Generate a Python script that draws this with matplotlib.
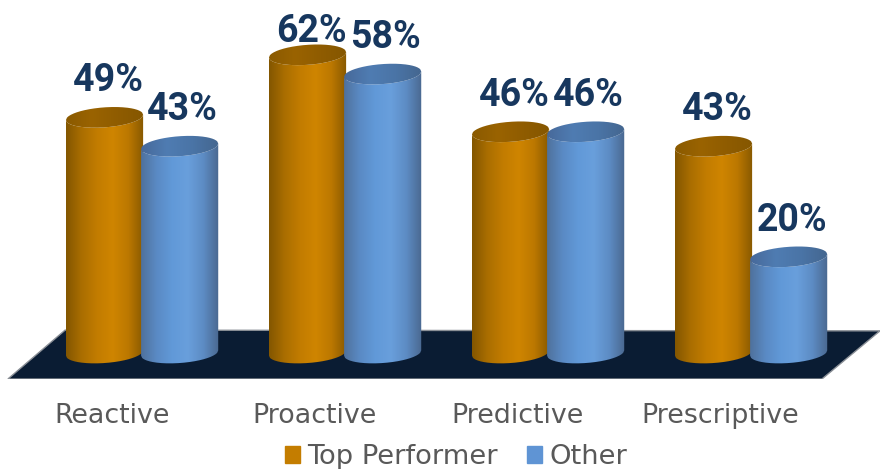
import numpy as np
import matplotlib
matplotlib.use('Agg')
import matplotlib.pyplot as plt
from matplotlib.colors import LinearSegmentedColormap
from matplotlib.patches import Patch, PathPatch, Polygon
from matplotlib.path import Path

categories = ['Reactive', 'Proactive', 'Predictive', 'Prescriptive']
top_performer = [49, 62, 46, 43]
other = [43, 58, 46, 20]
series_names = ['Top Performer', 'Other']

ORANGE = ['#835600', '#aa6e00', '#c27c00', '#cf8500', '#bc7800', '#875900']
ORANGE_TOP = ['#8a5a00', '#9a6300', '#8f5c00', '#855700']
BLUE = ['#4f719c', '#5a8ac4', '#6199d8', '#699fdc', '#5d8cc4', '#4a6890']
BLUE_TOP = ['#47699a', '#4f7cb2', '#4a74a6', '#44668f']

BAR_HALF = 0.19
CAP_HALF = 2.08
TILT = 0.55 / BAR_HALF
LABEL_CEILING = 64.7


def ellipse_y(x, xc, yc, sign):
    dx = (x - xc) / BAR_HALF
    return yc + sign * CAP_HALF * np.sqrt(np.clip(1 - dx ** 2, 0, 1)) + TILT * (x - xc)


def draw_cylinder(ax, xc, value, body_colors, top_colors):
    xs = np.linspace(xc - BAR_HALF, xc + BAR_HALF, 80)
    lower = ellipse_y(xs, xc, 0, -1)
    upper = ellipse_y(xs, xc, value, -1)
    body = np.vstack([np.column_stack([xs, lower]), np.column_stack([xs[::-1], upper[::-1]])])
    grad = np.linspace(0, 1, 256).reshape(1, -1)

    cmap = LinearSegmentedColormap.from_list('body', body_colors)
    im = ax.imshow(grad, cmap=cmap, aspect='auto', zorder=3,
                   extent=[xc - BAR_HALF, xc + BAR_HALF, -5, value + 5])
    im.set_clip_path(PathPatch(Path(body), transform=ax.transData))

    top = np.vstack([np.column_stack([xs, upper]),
                     np.column_stack([xs[::-1], ellipse_y(xs[::-1], xc, value, 1)])])
    cmap = LinearSegmentedColormap.from_list('top', top_colors)
    im = ax.imshow(grad, cmap=cmap, aspect='auto', zorder=3,
                   extent=[xc - BAR_HALF, xc + BAR_HALF, value - 5, value + 5])
    im.set_clip_path(PathPatch(Path(top), transform=ax.transData))


fig = plt.figure(figsize=(8.8, 4.69), dpi=100)
ax = fig.add_axes([0, 90 / 469, 1, 379 / 469])

# floor of the 3d chart
ax.add_patch(Polygon([(0.009, 0), (0.934, 0), (1.0, 0.127), (0.074, 0.129)], closed=True,
                     transform=ax.transAxes, facecolor='#0a1c33', edgecolor='#8a8f96',
                     linewidth=1.0, zorder=1))

for i, cat in enumerate(categories):
    draw_cylinder(ax, i - 0.185, top_performer[i], ORANGE, ORANGE_TOP)
    draw_cylinder(ax, i + 0.185, other[i], BLUE, BLUE_TOP)
    for xc, val in [(i - 0.165, top_performer[i]), (i + 0.2, other[i])]:
        ax.text(xc, min(val + 5.4, LABEL_CEILING), f'{val}%', ha='center', va='baseline',
                color='#17375e', fontsize=27, fontweight='bold', family='Roboto', zorder=4)

ax.set_xlim(-0.70, 3.635)
ax.set_ylim(-5.4, 73.4)
ax.set_xticks(np.arange(len(categories)) - 0.15)
ax.set_xticklabels(categories, fontsize=19.4, color='#595959', family='DejaVu Sans')
ax.tick_params(axis='x', length=0, pad=17)
ax.set_yticks([])
for s in ax.spines.values():
    s.set_visible(False)

handles = [Patch(color='#c47d00', label=series_names[0]), Patch(color='#5f94d4', label=series_names[1])]
fig.legend(handles=handles, loc='lower center', bbox_to_anchor=(0.518, -0.055), ncol=2, frameon=False,
           prop={'family': 'DejaVu Sans', 'size': 19.7}, labelcolor='#595959',
           handlelength=0.58, handleheight=0.58, handletextpad=0.25, columnspacing=1.05)

fig.savefig('out.png', dpi=100)
